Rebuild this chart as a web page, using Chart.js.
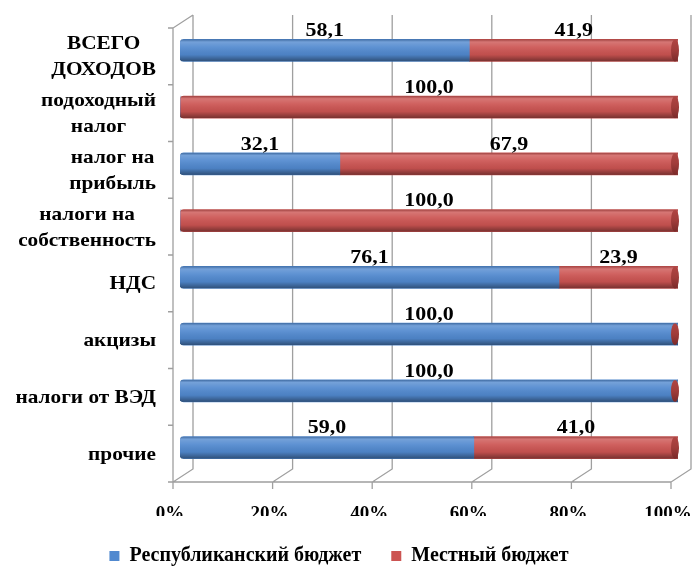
<!DOCTYPE html>
<html lang="ru">
<head>
  <meta charset="UTF-8" />
  <title>Структура доходов</title>
  <script src="https://cdn.jsdelivr.net/npm/chart.js"></script>
  <style>
    html, body { margin: 0; padding: 0; background: #fff; }
    #wrap { width: 693px; height: 571px; position: relative; }
  </style>
</head>
<body>
  <div id="wrap"><canvas id="chartBudget"></canvas></div>

  <script>
    // данные
    const categories = [
      ['ВСЕГО', 'ДОХОДОВ'],
      ['подоходный', 'налог'],
      ['налог на', 'прибыль'],
      ['налоги на', 'собственность'],
      'НДС',
      'акцизы',
      'налоги от ВЭД',
      'прочие'
    ];
    const republican = [58.1, 0, 32.1, 0, 76.1, 100.0, 100.0, 59.0];
    const local = [41.9, 100.0, 67.9, 100.0, 23.9, 0, 0, 41.0];
    const xTicks = [0, 20, 40, 60, 80, 100];

    const FONT = '"Liberation Serif", "Times New Roman", serif';
    // смещения "3D" плоскостей относительно плоскости столбцов
    const FRONT = { dx: -7, dy: 6 };
    const BACK = { dx: 13, dy: -7 };

    // текст в оригинале немного растянут по ширине
    function wideText(ctx, s, x, y, k) {
      ctx.save();
      ctx.translate(x, y);
      ctx.scale(k, 1);
      ctx.fillText(s, 0, 0);
      ctx.restore();
    }

    const framePlugin = {
      id: 'frame3d',
      beforeDatasetsDraw(chart) {
        const { ctx, chartArea: a, scales: { x } } = chart;
        ctx.save();
        ctx.strokeStyle = '#9f9f9f';
        ctx.lineWidth = 1.3;
        ctx.beginPath();
        xTicks.forEach(v => {
          const px = x.getPixelForValue(v);
          ctx.moveTo(px + BACK.dx, a.top + BACK.dy);
          ctx.lineTo(px + BACK.dx, a.bottom + BACK.dy);
          ctx.lineTo(px + FRONT.dx, a.bottom + FRONT.dy);
          ctx.lineTo(px + FRONT.dx, a.bottom + FRONT.dy + 7);
        });
        ctx.moveTo(a.left + FRONT.dx, a.bottom + FRONT.dy);
        ctx.lineTo(a.right + FRONT.dx, a.bottom + FRONT.dy);
        // левая стенка
        ctx.moveTo(a.left + BACK.dx, a.top + BACK.dy);
        ctx.lineTo(a.left + FRONT.dx, a.top + FRONT.dy);
        ctx.lineTo(a.left + FRONT.dx, a.bottom + FRONT.dy);
        const n = categories.length;
        for (let i = 0; i <= n; i++) {
          const yy = a.top + (a.bottom - a.top) * i / n + FRONT.dy;
          ctx.moveTo(a.left + FRONT.dx - 5, yy);
          ctx.lineTo(a.left + FRONT.dx, yy);
        }
        ctx.stroke();
        ctx.restore();
      },
      afterDraw(chart) {
        // подписи категорий: строки центрированы внутри блока, блок прижат вправо
        const { ctx, chartArea: a, scales: { y } } = chart;
        const k = 1.12;
        ctx.save();
        ctx.font = 'bold 19px ' + FONT;
        ctx.fillStyle = '#000';
        ctx.textBaseline = 'middle';
        ctx.textAlign = 'center';
        const right = a.left + FRONT.dx - 17;
        const lh = 26;
        categories.forEach((lab, i) => {
          const lines = Array.isArray(lab) ? lab : [lab];
          const w = Math.max(...lines.map(s => ctx.measureText(s).width)) * k;
          const cy = y.getPixelForTick(i) + FRONT.dy + 1;
          lines.forEach((s, j) => {
            wideText(ctx, s, right - w / 2, cy + (j - (lines.length - 1) / 2) * lh, k);
          });
        });
        ctx.restore();
      }
    };

    const cylinderPlugin = {
      id: 'cylinder',
      afterDatasetsDraw(chart) {
        const { ctx } = chart;
        const metas = chart.data.datasets.map((d, i) => chart.getDatasetMeta(i));
        ctx.save();
        // блики и тени только поверх уже нарисованных столбцов
        ctx.globalCompositeOperation = 'source-atop';
        metas.forEach(meta => {
          meta.data.forEach(bar => {
            const h = bar.height;
            const top = bar.y - h / 2;
            const g = ctx.createLinearGradient(0, top, 0, top + h);
            g.addColorStop(0, 'rgba(0,0,0,0.22)');
            g.addColorStop(0.12, 'rgba(255,255,255,0.2)');
            g.addColorStop(0.35, 'rgba(255,255,255,0.08)');
            g.addColorStop(0.7, 'rgba(0,0,0,0.06)');
            g.addColorStop(1, 'rgba(0,0,0,0.42)');
            ctx.fillStyle = g;
            ctx.fillRect(Math.min(bar.base, bar.x), top, Math.abs(bar.x - bar.base), h);
          });
        });
        ctx.globalCompositeOperation = 'source-over';
        // торец цилиндра
        const last = metas[metas.length - 1];
        last.data.forEach(bar => {
          const h = bar.height;
          const g = ctx.createLinearGradient(0, bar.y - h / 2, 0, bar.y + h / 2);
          g.addColorStop(0, '#b04543');
          g.addColorStop(0.5, '#a03c3a');
          g.addColorStop(1, '#7a2a29');
          ctx.fillStyle = g;
          ctx.beginPath();
          ctx.ellipse(bar.x - 3, bar.y, 4, h / 2, 0, 0, Math.PI * 2);
          ctx.fill();
        });
        // подписи значений
        ctx.font = 'bold 18px ' + FONT;
        ctx.fillStyle = '#000';
        ctx.textAlign = 'center';
        ctx.textBaseline = 'bottom';
        metas.forEach((meta, di) => {
          const vals = chart.data.datasets[di].data;
          meta.data.forEach((bar, i) => {
            if (!vals[i]) return;
            const txt = vals[i].toFixed(1).replace('.', ',');
            wideText(ctx, txt, (bar.x + bar.base) / 2, bar.y - bar.height / 2 + 1, 1.22);
          });
        });
        ctx.restore();
      }
    };

    function leftRound(ctx) {
      const i = ctx.dataIndex;
      const first = ctx.datasetIndex === 0 ? republican[i] > 0 : republican[i] === 0;
      return first ? { topLeft: 4, bottomLeft: 4, topRight: 0, bottomRight: 0 } : 0;
    }

    new Chart(document.getElementById('chartBudget'), {
      type: 'bar',
      data: {
        labels: categories,
        datasets: [
          { label: 'Республиканский бюджет', data: republican, backgroundColor: '#5189cf' },
          { label: 'Местный бюджет', data: local, backgroundColor: '#cc5452' }
        ]
      },
      options: {
        indexAxis: 'y',
        responsive: true,
        maintainAspectRatio: false,
        animation: false,
        barThickness: 22,
        borderSkipped: false,
        borderRadius: leftRound,
        layout: { padding: { top: 22, right: 15, left: 0, bottom: -5 } },
        scales: {
          x: {
            stacked: true,
            min: 0,
            max: 100,
            grid: { display: false, drawTicks: false },
            border: { display: false },
            afterFit: s => { s.height = 40; s.paddingLeft = 0; s.paddingRight = 0; },
            ticks: {
              stepSize: 20,
              padding: 27,
              labelOffset: -10,
              color: '#000',
              font: { family: FONT, size: 19, weight: 'bold' },
              callback: v => v + '%'
            }
          },
          y: {
            stacked: true,
            grid: { display: false, drawTicks: false },
            border: { display: false },
            ticks: { display: false },
            afterFit: s => { s.width = 180; }
          }
        },
        plugins: {
          tooltip: { enabled: false },
          legend: {
            position: 'bottom',
            labels: {
              boxWidth: 10,
              boxHeight: 10,
              padding: 30,
              color: '#000',
              font: { family: FONT, size: 20, weight: 'bold' }
            }
          }
        }
      },
      plugins: [framePlugin, cylinderPlugin]
    });
  </script>
</body>
</html>
